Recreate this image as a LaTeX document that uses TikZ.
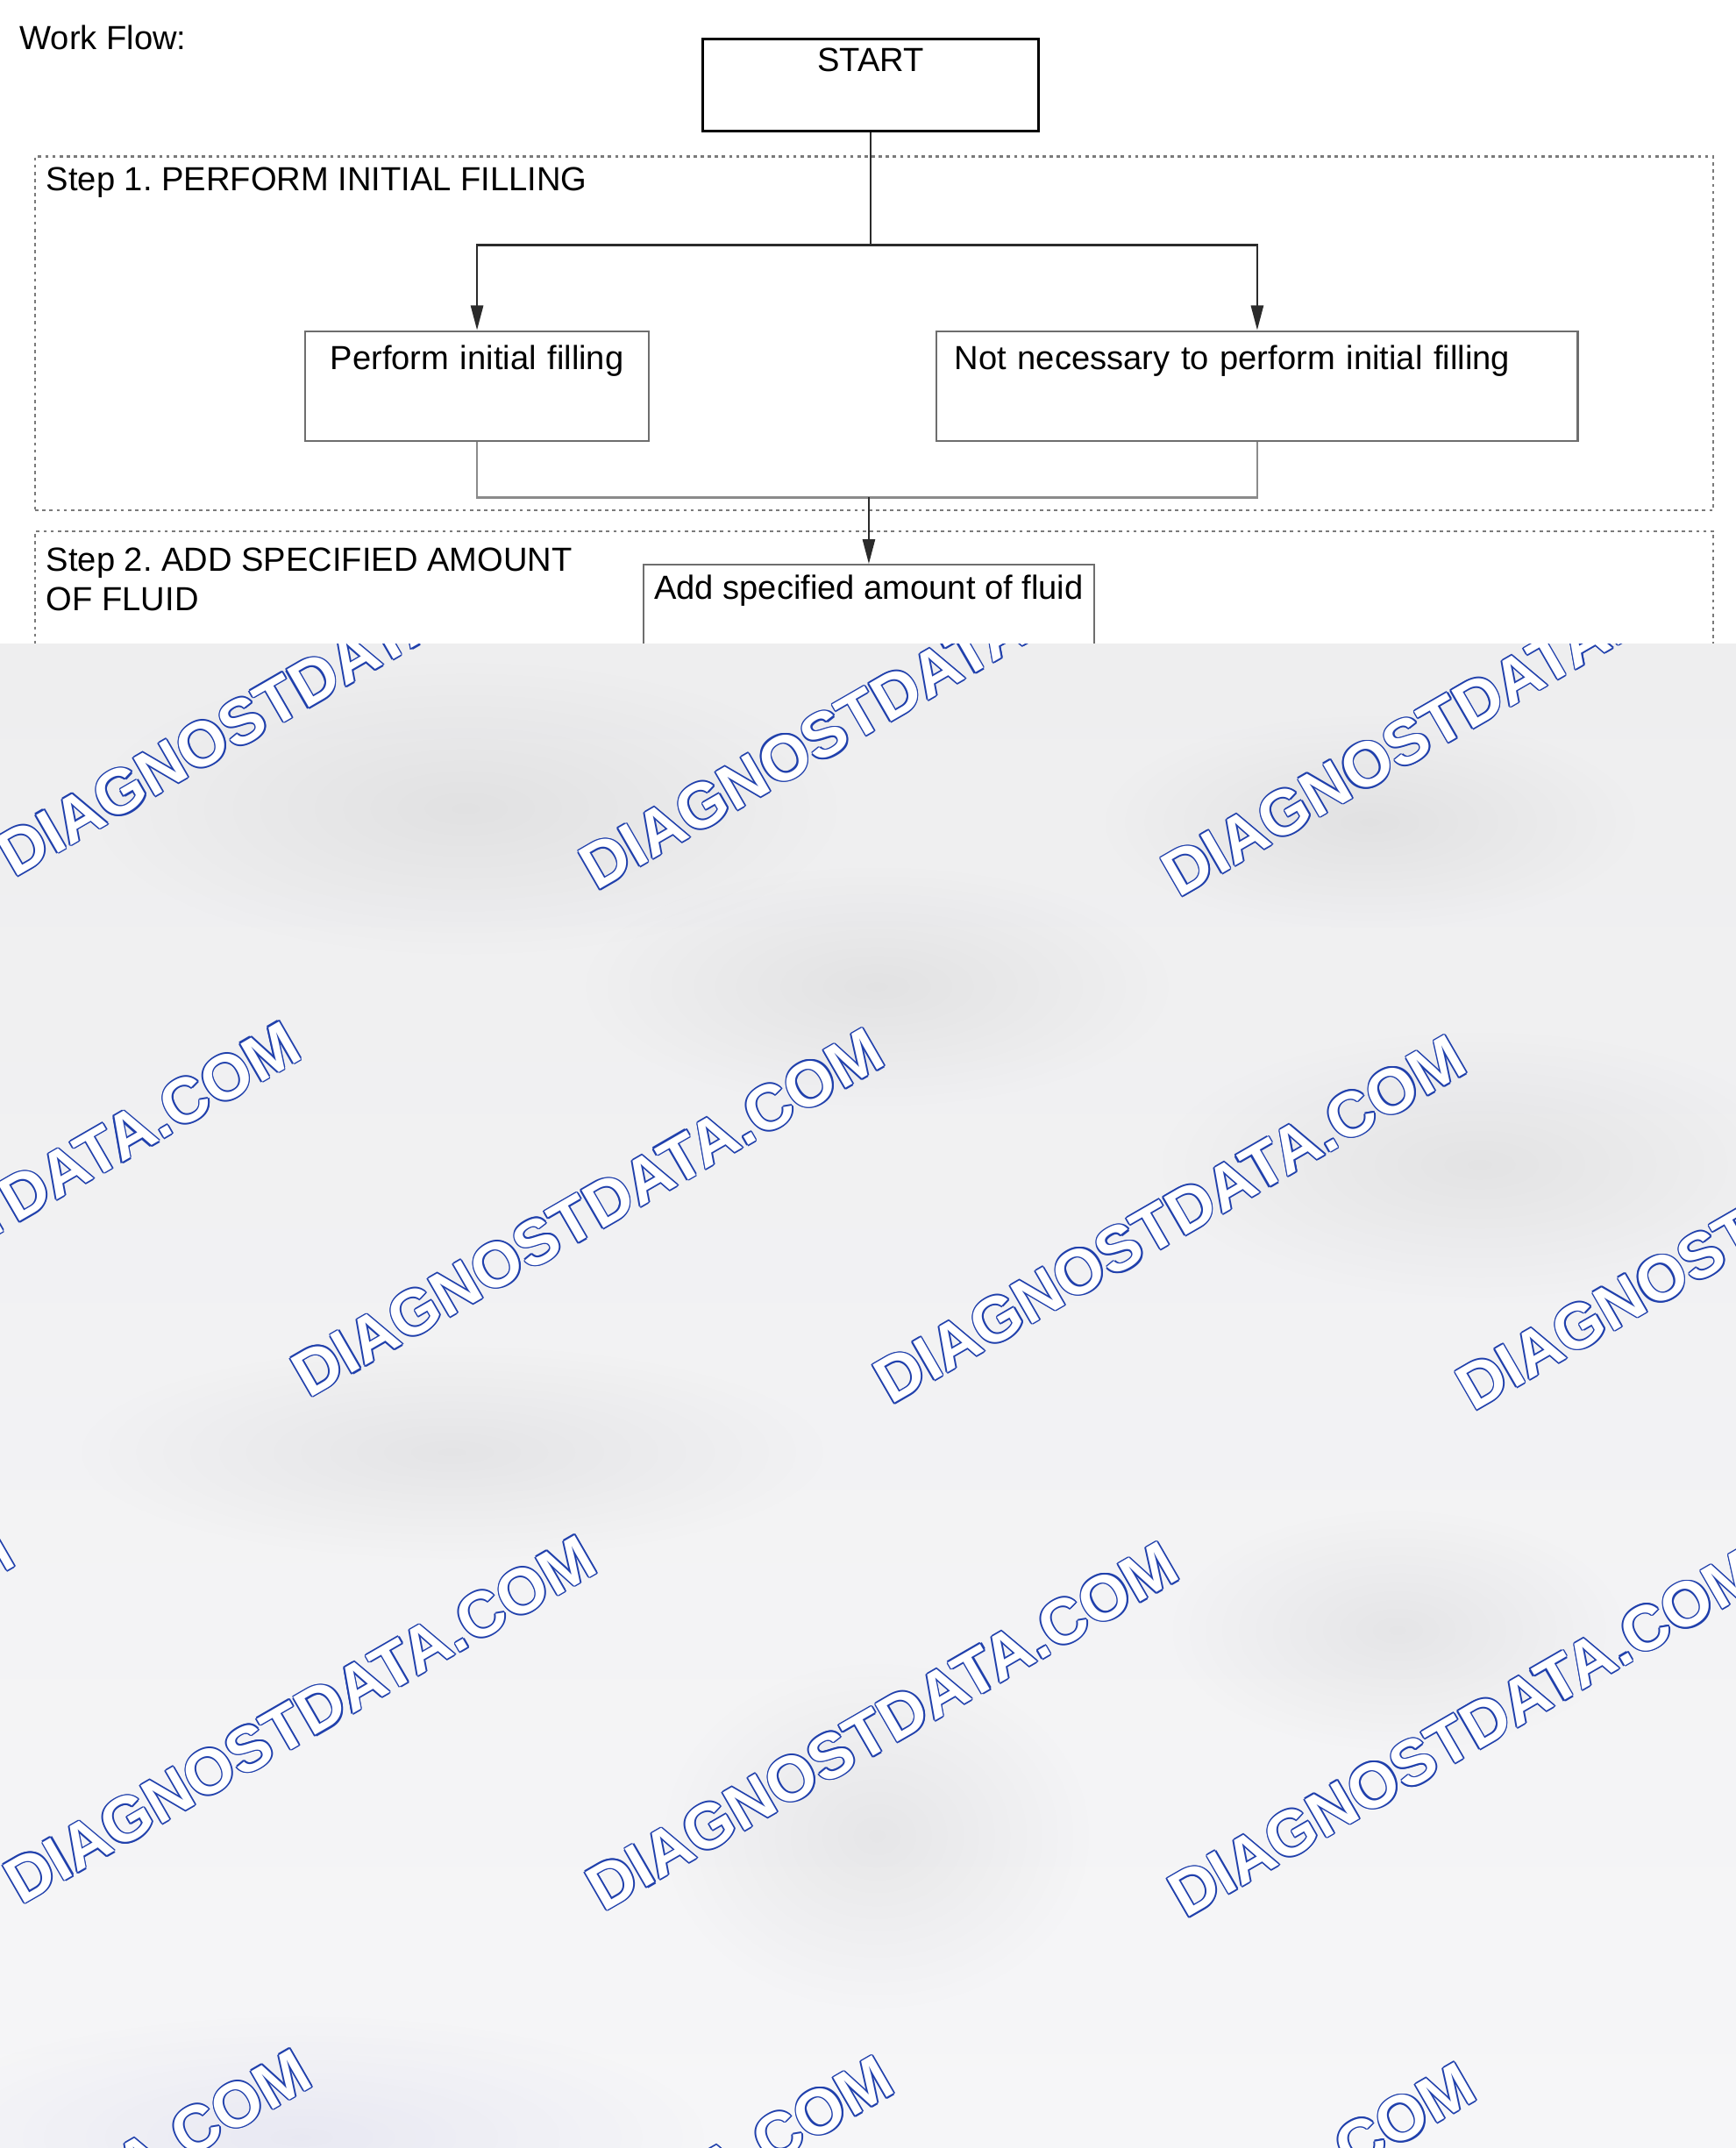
\documentclass[tikz,border=0pt]{standalone}
\usepackage{fontspec}
\setmainfont{Liberation Sans}
\usepackage{tikz}
\usetikzlibrary{calc,positioning,arrows.meta,fadings}
\frenchspacing

\definecolor{linedark}{HTML}{2B2B2B}
\definecolor{boxgray}{HTML}{6E6E6E}
\definecolor{framegray}{HTML}{7A7A7A}
\definecolor{wmtop}{HTML}{EEEEEF}
\definecolor{wmbottom}{HTML}{F6F6F8}
\definecolor{wmblue}{HTML}{2040AC}

\newcommand{\wmfont}{\bfseries\fontsize{23.2}{27}\selectfont}
\newcommand{\wmtext}{DIAGNOSTDATA.COM}

\tikzfading[name=blobfade, inner color=transparent!0, outer color=transparent!100]

\tikzset{
  flowline/.style={draw=linedark, line width=0.8pt},
  flowarrow/.style={flowline, -{Triangle[length=9pt,width=4.5pt]}},
  mergeline/.style={draw=boxgray!80, line width=0.9pt},
  stepframe/.style={draw=framegray, line width=0.7pt, dash pattern=on 1.2pt off 1.4pt, anchor=north west, inner sep=0pt},
  actbox/.style={draw=boxgray, line width=0.7pt, anchor=north west, inner ysep=0pt, text height=14pt, text depth=26pt},
  wmark/.style={rotate=30, font=\wmfont, inner sep=0pt},
}

\begin{document}
\begin{tikzpicture}[x=0.5pt, y=-0.5pt, font=\fontsize{12.2}{14.5}\selectfont]
  \useasboundingbox (0,0) rectangle (1267.2,1568);
  \fill[white] (0,0) rectangle (1267.2,1568);

  \node[anchor=base west, inner sep=0pt] (workflow) at (14,36) {Work Flow:};
  \node[draw=black, line width=0.9pt, anchor=north west, minimum width=122.5pt, inner sep=0pt, text height=11.65pt, text depth=22pt] (start) at (512,27.7) {START};

  \node[stepframe, minimum width=612.5pt, minimum height=129.25pt] (step1) at (25,113.5) {};
  \node[stepframe, minimum width=612.5pt, minimum height=100pt] (step2) at (25,387) {};
  \node[anchor=base west, inner sep=0pt] (step1title) at (33.5,139) {Step 1. PERFORM INITIAL FILLING};
  \node[anchor=base west, inner sep=0pt, align=left] (step2title) at (33.5,446) {Step 2. ADD SPECIFIED AMOUNT\\OF FLUID};

  \node[actbox, inner xsep=0pt, text width=125.5pt, align=center] (fill) at (222,241) {Perform initial filling};
  \node[actbox, inner xsep=6.5pt, text width=221pt, align=left] (nofill) at (683,241) {Not necessary to perform initial filling};
  \node[actbox, inner xsep=0pt, minimum width=164.5pt, text height=12.7pt, text depth=37pt] (addfluid) at (469,411.6) {Add specified amount of fluid};

  \coordinate (split) at (start.south |- 0,179);
  \coordinate (merge) at (addfluid.north |- 0,363);
  \draw[flowline] (start) -- (split);
  \draw[flowarrow] (split) -| (fill);
  \draw[flowarrow] (split) -| (nofill);
  \draw[mergeline] (fill) |- (merge) -| (nofill);
  \draw[flowarrow] (merge) -- (addfluid);

  \begin{scope}
    \shade[top color=wmtop, bottom color=wmbottom] (0,470) rectangle (1267.2,1568);
    \clip (0,470) rectangle (1267.2,1568);
    \foreach \bx/\by/\rx/\ry in {340/590/280/110, 640/720/220/90, 1000/600/200/80, 1080/850/240/100, 1020/1190/170/90, 640/1340/160/130, 330/1060/280/80}
      \fill[black, opacity=0.055, path fading=blobfade] (\bx,\by) ellipse [x radius=\rx, y radius=\ry];
    \fill[blue!40!gray, opacity=0.08, path fading=blobfade] (220,1560) ellipse [x radius=300, y radius=90];
    \foreach \cx/\cy [count=\i] in {214/505, 639/515, 1064/520, 3/880, 429/885, 854/890, 1279/895, -206/1250, 219/1255, 644/1260, 1069/1265, 11/1630, 436/1635, 861/1640}{
      \foreach \a in {0,45,...,315}
        \node[wmark, text=wmblue] (wm\i-\a) at ([shift={(\a:0.55pt)}]\cx,\cy) {\wmtext};
      \node[wmark, text=white] (wm\i) at (\cx,\cy) {\wmtext};
    }
  \end{scope}
\end{tikzpicture}
\end{document}
